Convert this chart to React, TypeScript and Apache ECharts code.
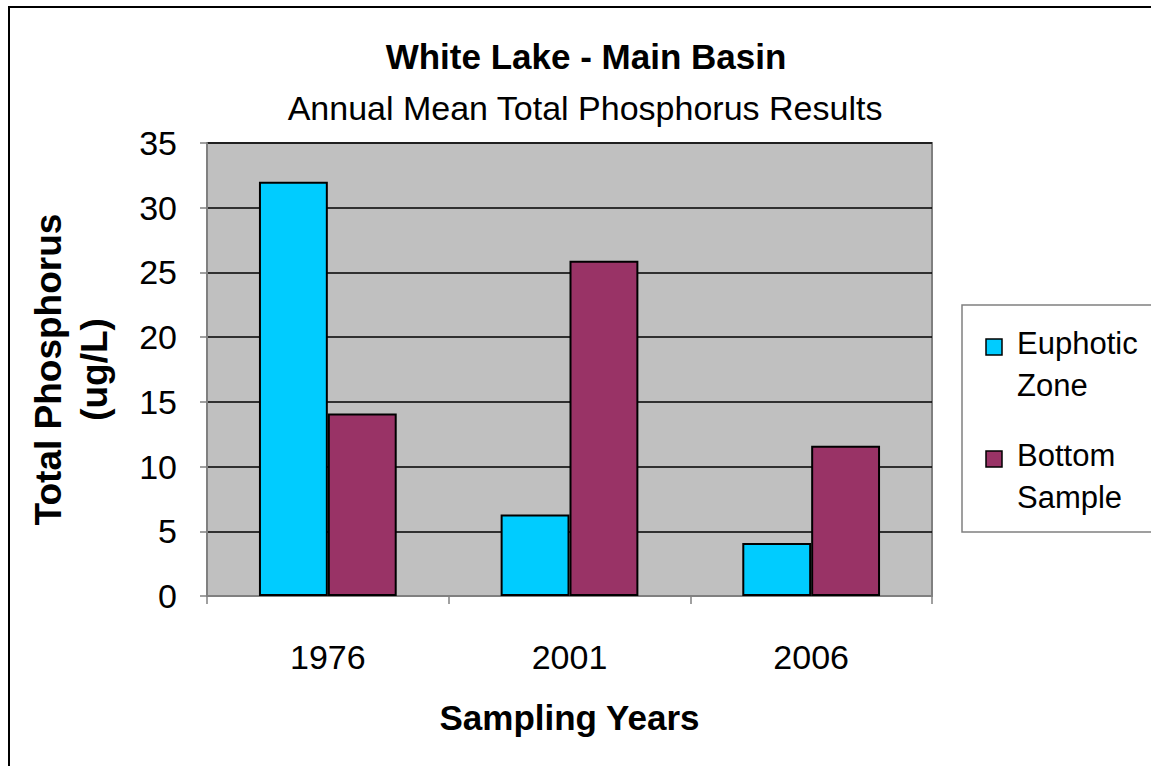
import React, { useEffect, useRef } from "react";
import * as echarts from "echarts";

const titleText = "White Lake - Main Basin";
const subtitleText = "Annual Mean Total Phosphorus Results";
const years = ["1976", "2001", "2006"];
const seriesNames = ["Euphotic\nZone", "Bottom\nSample"];
const euphotic = [32, 6.3, 4.1];
const bottom = [14.1, 25.9, 11.6];
const seriesColors = ["#00CCFF", "#993366"];
const yAxisName = "Total Phosphorus\n(ug/L)";
const xAxisName = "Sampling Years";

const FONT = "'Liberation Sans', Arial, sans-serif";

export default function App() {
  const ref = useRef<HTMLDivElement>(null);
  useEffect(() => {
    if (!ref.current) return;
    const chart = echarts.init(ref.current, null, { renderer: "svg" });
    const seriesData = [euphotic, bottom];
    const legendGraphics: any[] = [
      {
        type: "rect",
        shape: { x: 962, y: 305, width: 210, height: 227 },
        style: { fill: "#fff", stroke: "#808080", lineWidth: 1.5 },
      },
    ];
    seriesNames.forEach((name, i) => {
      legendGraphics.push({
        type: "rect",
        shape: { x: 986, y: 339 + i * 112, width: 16, height: 16 },
        style: { fill: seriesColors[i], stroke: "#000", lineWidth: 1.5 },
      });
      legendGraphics.push({
        type: "text",
        x: 1017,
        y: 322 + i * 112,
        style: {
          text: name,
          font: `31px ${FONT}`,
          fill: "#000",
          lineHeight: 42,
          verticalAlign: "top",
          align: "left",
        },
      });
    });
    chart.setOption({
      animation: false,
      backgroundColor: "#fff",
      title: [
        {
          text: titleText,
          left: 586,
          top: 39,
          textAlign: "center",
          padding: 0,
          textStyle: { fontFamily: FONT, fontSize: 35, fontWeight: "bold", color: "#000" },
        },
        {
          text: subtitleText,
          left: 585,
          top: 91,
          textAlign: "center",
          padding: 0,
          textStyle: { fontFamily: FONT, fontSize: 34, fontWeight: "normal", color: "#000" },
        },
      ],
      grid: {
        left: 207,
        top: 143,
        width: 725,
        height: 453,
        show: true,
        backgroundColor: "#C0C0C0",
        borderColor: "#808080",
        borderWidth: 2,
        containLabel: false,
      },
      xAxis: {
        type: "category",
        data: years,
        name: xAxisName,
        nameLocation: "middle",
        nameGap: 104,
        nameTextStyle: { fontFamily: FONT, fontSize: 35, fontWeight: "bold", color: "#000" },
        axisLine: { show: true, lineStyle: { color: "#808080", width: 2 } },
        axisTick: { show: true, alignWithLabel: false, interval: 0, length: 8, lineStyle: { color: "#808080", width: 1.5 } },
        axisLabel: { fontFamily: FONT, fontSize: 34, color: "#000", margin: 44 },
        splitLine: { show: false },
      },
      yAxis: {
        type: "value",
        min: 0,
        max: 35,
        interval: 5,
        name: yAxisName,
        nameLocation: "middle",
        nameGap: 90,
        nameRotate: 90,
        nameTextStyle: { fontFamily: FONT, fontSize: 37, fontWeight: "bold", color: "#000", lineHeight: 46, align: "center" },
        axisLine: { show: true, lineStyle: { color: "#808080", width: 2 } },
        axisTick: { show: true, length: 7, lineStyle: { color: "#808080", width: 1.5 } },
        axisLabel: { fontFamily: FONT, fontSize: 34, color: "#000", margin: 30 },
        splitLine: { show: true, lineStyle: { color: "#000", width: 1.5 } },
      },
      series: seriesNames.map((name, i) => ({
        type: "bar",
        name,
        data: seriesData[i],
        barGap: "0%",
        barCategoryGap: "43%",
        itemStyle: { color: seriesColors[i], borderColor: "#000", borderWidth: 2 },
      })),
      graphic: [
        ...legendGraphics,
        {
          type: "rect",
          shape: { x: 9, y: 7, width: 1170, height: 790 },
          style: { fill: "none", stroke: "#000", lineWidth: 2 },
          z: 100,
        },
      ],
    });
    return () => chart.dispose();
  }, []);
  return (
    <div
      ref={ref}
      style={{ position: "fixed", left: 0, top: 0, width: 1151, height: 766 }}
    />
  );
}
